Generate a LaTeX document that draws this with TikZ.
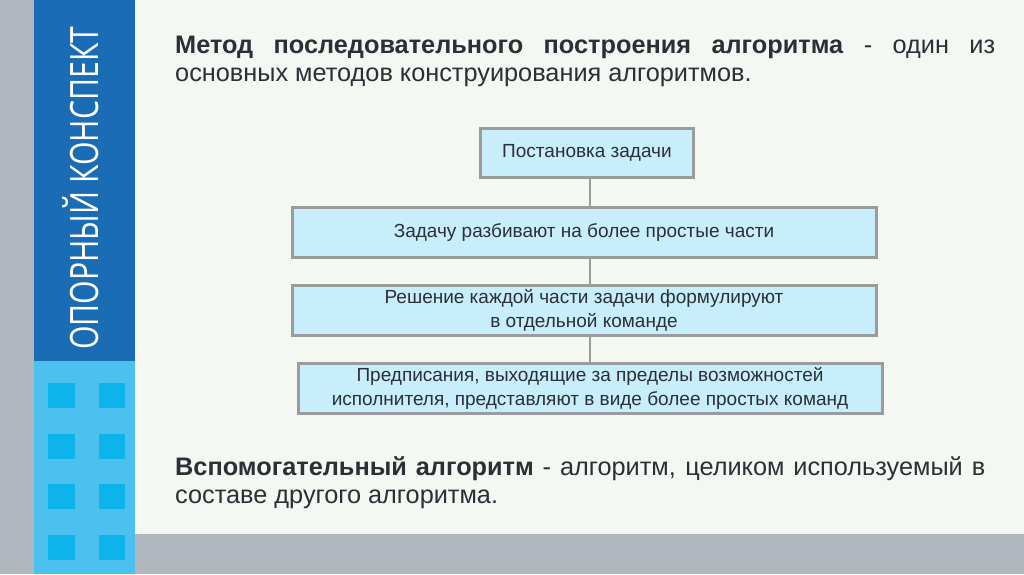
\documentclass[tikz,border=0pt]{standalone}
\usepackage{fontspec}
\setmainfont{Liberation Sans}
\newfontfamily\sidefont[FakeStretch=0.775]{Open Sans}
\definecolor{bgc}{HTML}{F5F7F2}
\definecolor{grayc}{HTML}{B0B7BF}
\definecolor{darkblue}{HTML}{1A6DB5}
\definecolor{lightblue}{HTML}{4CC0EE}
\definecolor{sqblue}{HTML}{0DB4EC}
\definecolor{txt}{HTML}{2B2F36}
\definecolor{boxfill}{HTML}{C8EEFC}
\definecolor{boxline}{HTML}{999B9C}
\tikzset{
  stepbox/.style={draw=boxline, line width=3pt, fill=boxfill, inner sep=0pt, align=center,
    font=\fontsize{19}{24}\selectfont, text=txt},
  link/.style={draw=boxline, line width=2.5pt},
  bodytext/.style={anchor=north west, inner sep=0pt, text width=820pt, align=justify,
    font=\fontsize{25.3}{28}\selectfont, text=txt}
}
\begin{document}
\begin{tikzpicture}[x=1pt,y=-1pt]
\useasboundingbox (0,0) rectangle (1024,574);
\fill[bgc] (0,0) rectangle (1024,574);
\fill[grayc] (0,0) rectangle (34,574);
\fill[grayc] (135,534) rectangle (1024,574);
\fill[darkblue] (34,0) rectangle (135,361);
\fill[lightblue] (34,361) rectangle (135,574);
\foreach \y in {383,434,484,535}{
  \fill[sqblue] (48,\y) rectangle (75,\y+25);
  \fill[sqblue] (99,\y) rectangle (125,\y+25);
}
\node[rotate=90, anchor=base west, inner sep=0pt, text=white, font=\sidefont\fontsize{39}{39}\selectfont] (side) at (98,350) {ОПОРНЫЙ КОНСПЕКТ};

\node[bodytext] (title) at (175,36) {\textbf{Метод последовательного построения алгоритма} - один из основных методов конструирования алгоритмов.};

\node[stepbox, minimum width=213pt, minimum height=49pt] (b1) at (587,153) {Постановка задачи};
\node[stepbox, minimum width=584pt, minimum height=50pt] (b2) at (584,232) {Задачу разбивают на более простые части};
\node[stepbox, minimum width=584pt, minimum height=50pt] (b3) at (584,310) {Решение каждой части задачи формулируют\\в отдельной команде};
\node[stepbox, minimum width=584pt, minimum height=50pt] (b4) at (590,388) {Предписания, выходящие за пределы возможностей\\исполнителя, представляют в виде более простых команд};

\coordinate (c1) at (590,177);
\draw[link] (b1.south -| c1) -- (b2.north -| c1);
\draw[link] (b2.south -| c1) -- (b3.north -| c1);
\draw[link] (b3.south -| c1) -- (b4.north -| c1);

\node[bodytext, text width=810pt] (bottom) at (175,456) {\textbf{Вспомогательный алгоритм} - алгоритм, целиком используемый в составе другого алгоритма.};
\end{tikzpicture}
\end{document}
